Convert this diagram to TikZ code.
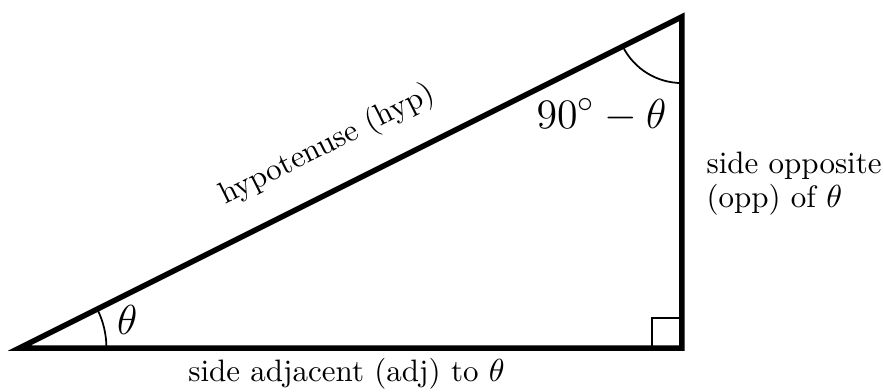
\documentclass[tikz,border=0pt,11pt]{standalone}
\usepackage{amsmath}
\usepackage{tikz}
\usetikzlibrary{calc}

\begin{document}
\begin{tikzpicture}[
    side/.style={line width=1.9pt},
    anglemark/.style={line width=0.6pt},
    lbl/.style={inner sep=0pt, font=\fontsize{10.65}{11.7}\selectfont},
    big/.style={inner sep=0pt, font=\fontsize{15}{18}\selectfont},
]
\useasboundingbox (-0.2355,-0.519) rectangle (10.44,4.203);
\coordinate (A) at (0, 0);
\coordinate (B) at (8, 0);
\coordinate (C) at (8, 4);
\draw[side] (A) -- (B) -- (C) -- cycle;

\draw[anglemark] ([shift={(0:1.05)}]A) arc[start angle=0, end angle=26.565, radius=1.05];
\draw[anglemark] ([shift={(270:0.8)}]C) arc[start angle=270, end angle=206.565, radius=0.8];
\draw[anglemark] ([xshift=-0.36cm]B) |- ([yshift=0.36cm]B);

\node[big] (theta) at (1.30, 0.34) {$\theta$};
\node[big, anchor=base east] (comp) at (7.82, 2.657) {$90^\circ-\theta$};
\node[lbl, rotate=26.565, anchor=base] (hyp) at (3.76, 2.367) {hypotenuse (hyp)};
\node[lbl, anchor=base] (adj) at (3.95, -0.40) {side adjacent (adj) to $\theta$};
\node[lbl, anchor=west, align=left] (opp) at (8.29, 1.98) {side opposite\\(opp) of $\theta$};
\end{tikzpicture}
\end{document}
